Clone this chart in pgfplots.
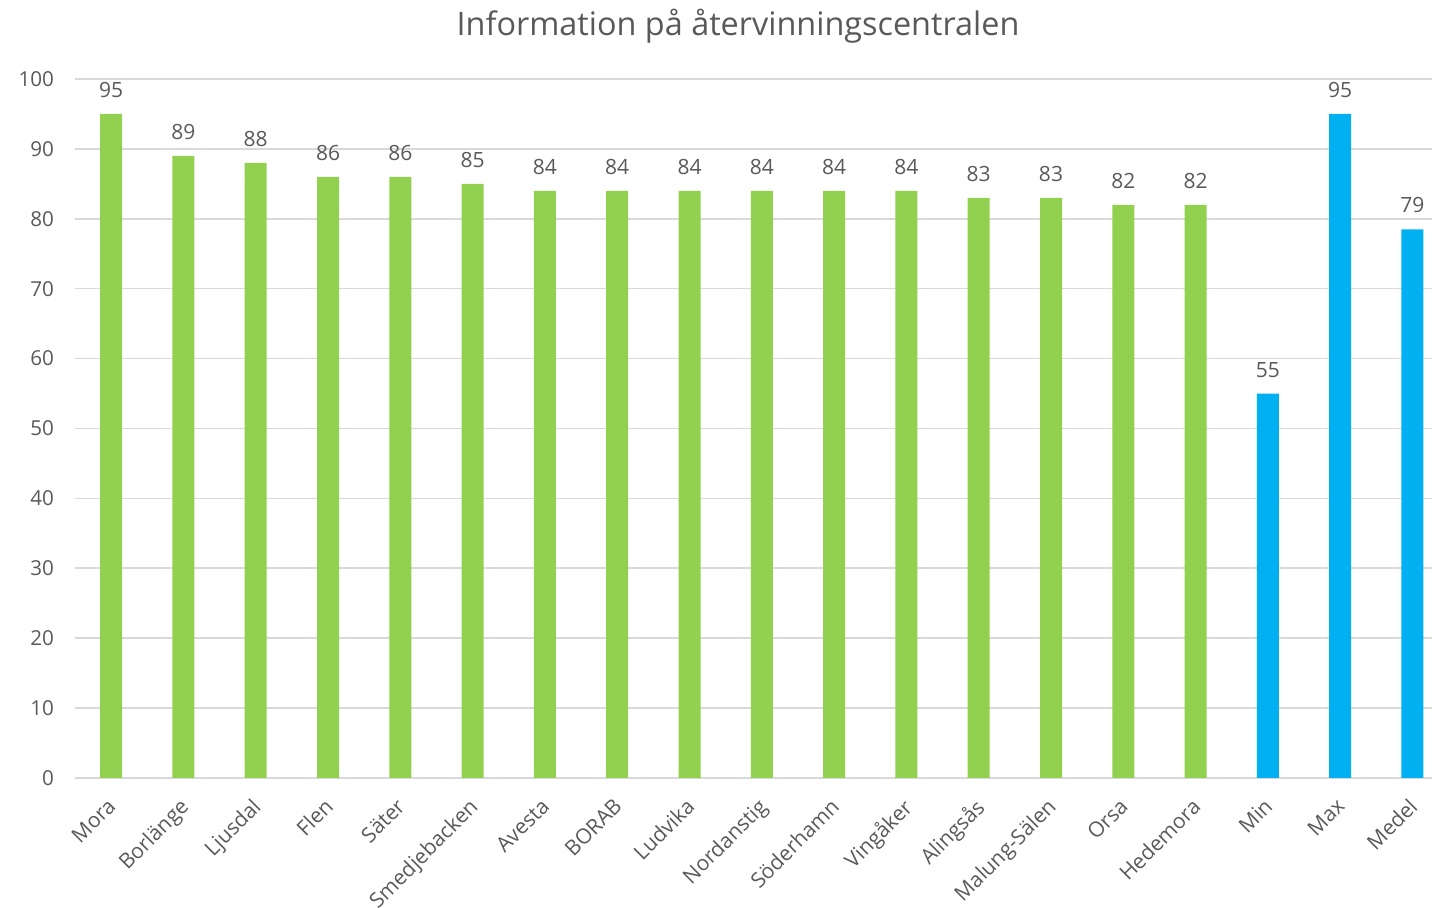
\documentclass[border=0pt]{standalone}
\usepackage{pgfplots}
\pgfplotsset{compat=1.18}
\usepackage{fontspec}
\setmainfont{Open Sans}
\definecolor{txt}{HTML}{595959}
\definecolor{grn}{HTML}{92D050}
\definecolor{blu}{HTML}{00B0F0}
\definecolor{grd}{HTML}{D9D9D9}
\begin{document}
\begin{tikzpicture}
\begin{axis}[
  at={(37.5pt,65pt)}, anchor=south west,
  scale only axis, width=678.5pt, height=349.5pt,
  ybar, bar width=11pt, bar shift=0pt,
  xmin=-0.5, xmax=18.27, ymin=0, ymax=100,
  ytick={0,10,...,100},
  xtick={0,...,18},
  xticklabels={Mora,Borlänge,Ljusdal,Flen,Säter,Smedjebacken,Avesta,BORAB,Ludvika,Nordanstig,Söderhamn,Vingåker,Alingsås,Malung-Sälen,Orsa,Hedemora,Min,Max,Medel},
  xticklabel style={rotate=45, anchor=north east, font=\fontsize{10.5}{12}\selectfont, text=txt, xshift=-5pt, yshift=-1.5pt},
  yticklabel style={font=\fontsize{10.3}{12}\selectfont, text=txt, xshift=-7pt},
  /pgf/number format/assume math mode=true,
  major tick length=0pt,
  ymajorgrids, grid style={grd, line width=0.8pt},
  axis line style={draw=none},
  axis x line*=bottom,
  extra y ticks={0}, extra y tick labels={},
  extra y tick style={grid style={draw=grd, line width=1pt}},
  nodes near coords={\pgfmathprintnumber[fixed,precision=0]{\pgfplotspointmeta}},
  every node near coord/.append style={font=\fontsize{10.5}{12}\selectfont, text=txt, yshift=4.5pt},
  clip=false,
]
\addplot[fill=grn, draw=none] coordinates {
 (0,95) (1,89) (2,88) (3,86) (4,86) (5,85) (6,84) (7,84) (8,84) (9,84) (10,84) (11,84) (12,83) (13,83) (14,82) (15,82)};
\addplot[fill=blu, draw=none] coordinates {(16,55) (17,95) (18,78.5)};
\end{axis}
\node[font=\fontsize{16.2}{19}\selectfont, text=txt] at (369pt,441pt) {Information på återvinningscentralen};
\pgfresetboundingbox
\path (0,0) rectangle (716pt,454pt);
\end{tikzpicture}
\end{document}
